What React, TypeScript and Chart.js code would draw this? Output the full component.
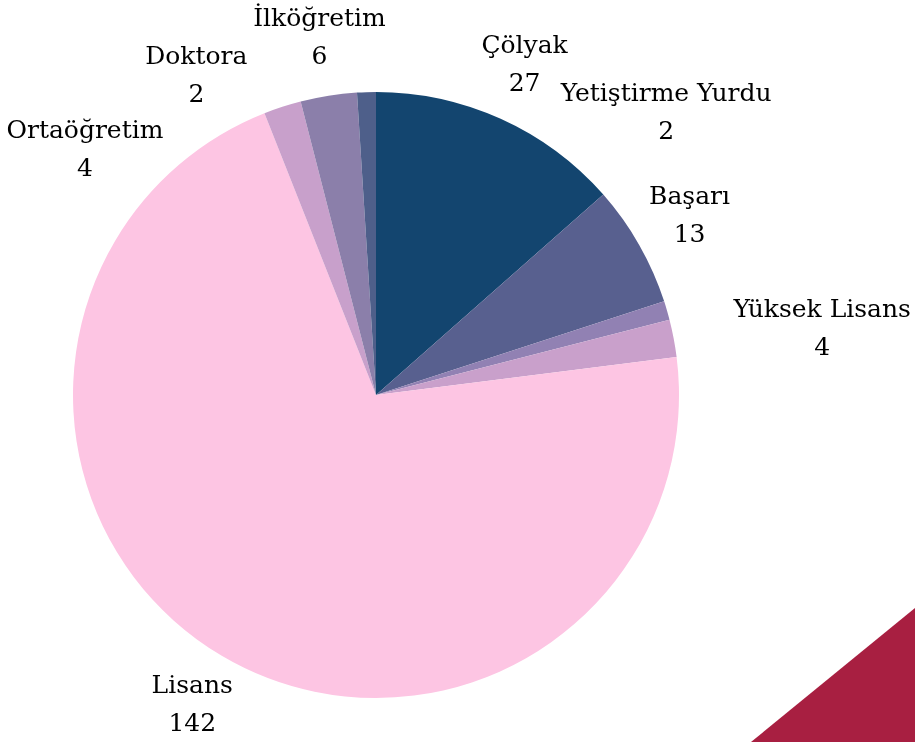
import React, { useEffect, useRef } from "react";
import { Chart, registerables } from "chart.js";

Chart.register(...registerables);

const categories = ["Çölyak", "Başarı", "Yetiştirme Yurdu", "Yüksek Lisans", "Lisans", "Ortaöğretim", "İlköğretim", "Doktora"];
const counts = [27, 13, 2, 4, 142, 4, 6, 2];
const sliceColors = ["#13456f", "#58608f", "#9181b3", "#c9a0cb", "#fdc5e3", "#c8a0cb", "#8b7faa", "#4e5f8a"];

// label placement: null = at slice mid-angle; otherwise [angle from 12 o'clock in deg, extra distance beyond rim]
const labelPlacement: (null | [number, number])[] = [null, null, [45.9, 101], [81.6, 148], null, [-50, 77], null, [-29.4, 63]];

const labelPlugin = {
  id: "outLabels",
  afterDatasetsDraw(chart: any) {
    const ctx = chart.ctx;
    const meta = chart.getDatasetMeta(0);
    ctx.save();
    ctx.font = "25px 'DejaVu Serif'";
    ctx.fillStyle = "#000";
    ctx.textAlign = "center";
    ctx.textBaseline = "middle";
    meta.data.forEach((arc: any, i: number) => {
      const p = arc.getProps(["x", "y", "startAngle", "endAngle", "outerRadius"], true);
      let a = (p.startAngle + p.endAngle) / 2;
      let d = p.outerRadius + 58;
      const o = labelPlacement[i];
      if (o) {
        a = ((o[0] - 90) * Math.PI) / 180;
        d = p.outerRadius + o[1];
      }
      const x = p.x + d * Math.cos(a);
      const y = p.y + d * Math.sin(a);
      ctx.fillText(categories[i], x, y - 19);
      ctx.fillText(String(counts[i]), x, y + 19);
    });
    ctx.restore();
  },
};

export default function App() {
  const ref = useRef<HTMLCanvasElement>(null);
  useEffect(() => {
    if (!ref.current) return;
    const chart = new Chart(ref.current, {
      type: "pie",
      data: {
        labels: categories,
        datasets: [
          {
            data: counts,
            backgroundColor: sliceColors,
            borderWidth: 0,
          },
        ],
      },
      options: {
        responsive: false,
        animation: false,
        layout: { padding: { left: 70, right: 233, top: 92, bottom: 44 } },
        plugins: { legend: { display: false }, tooltip: { enabled: false } },
      },
      plugins: [labelPlugin],
    });
    return () => chart.destroy();
  }, []);
  return (
    <div style={{ position: "absolute", left: 0, top: 0, width: 915, height: 742, background: "#fff", overflow: "hidden" }}>
      <div
        style={{
          position: "absolute",
          left: 0,
          top: 0,
          width: 915,
          height: 742,
          background: "#a81f41",
          clipPath: "polygon(915px 608px, 915px 742px, 751px 742px)",
        }}
      />
      <canvas ref={ref} width={915} height={742} style={{ position: "absolute", left: 0, top: 0 }} />
    </div>
  );
}
